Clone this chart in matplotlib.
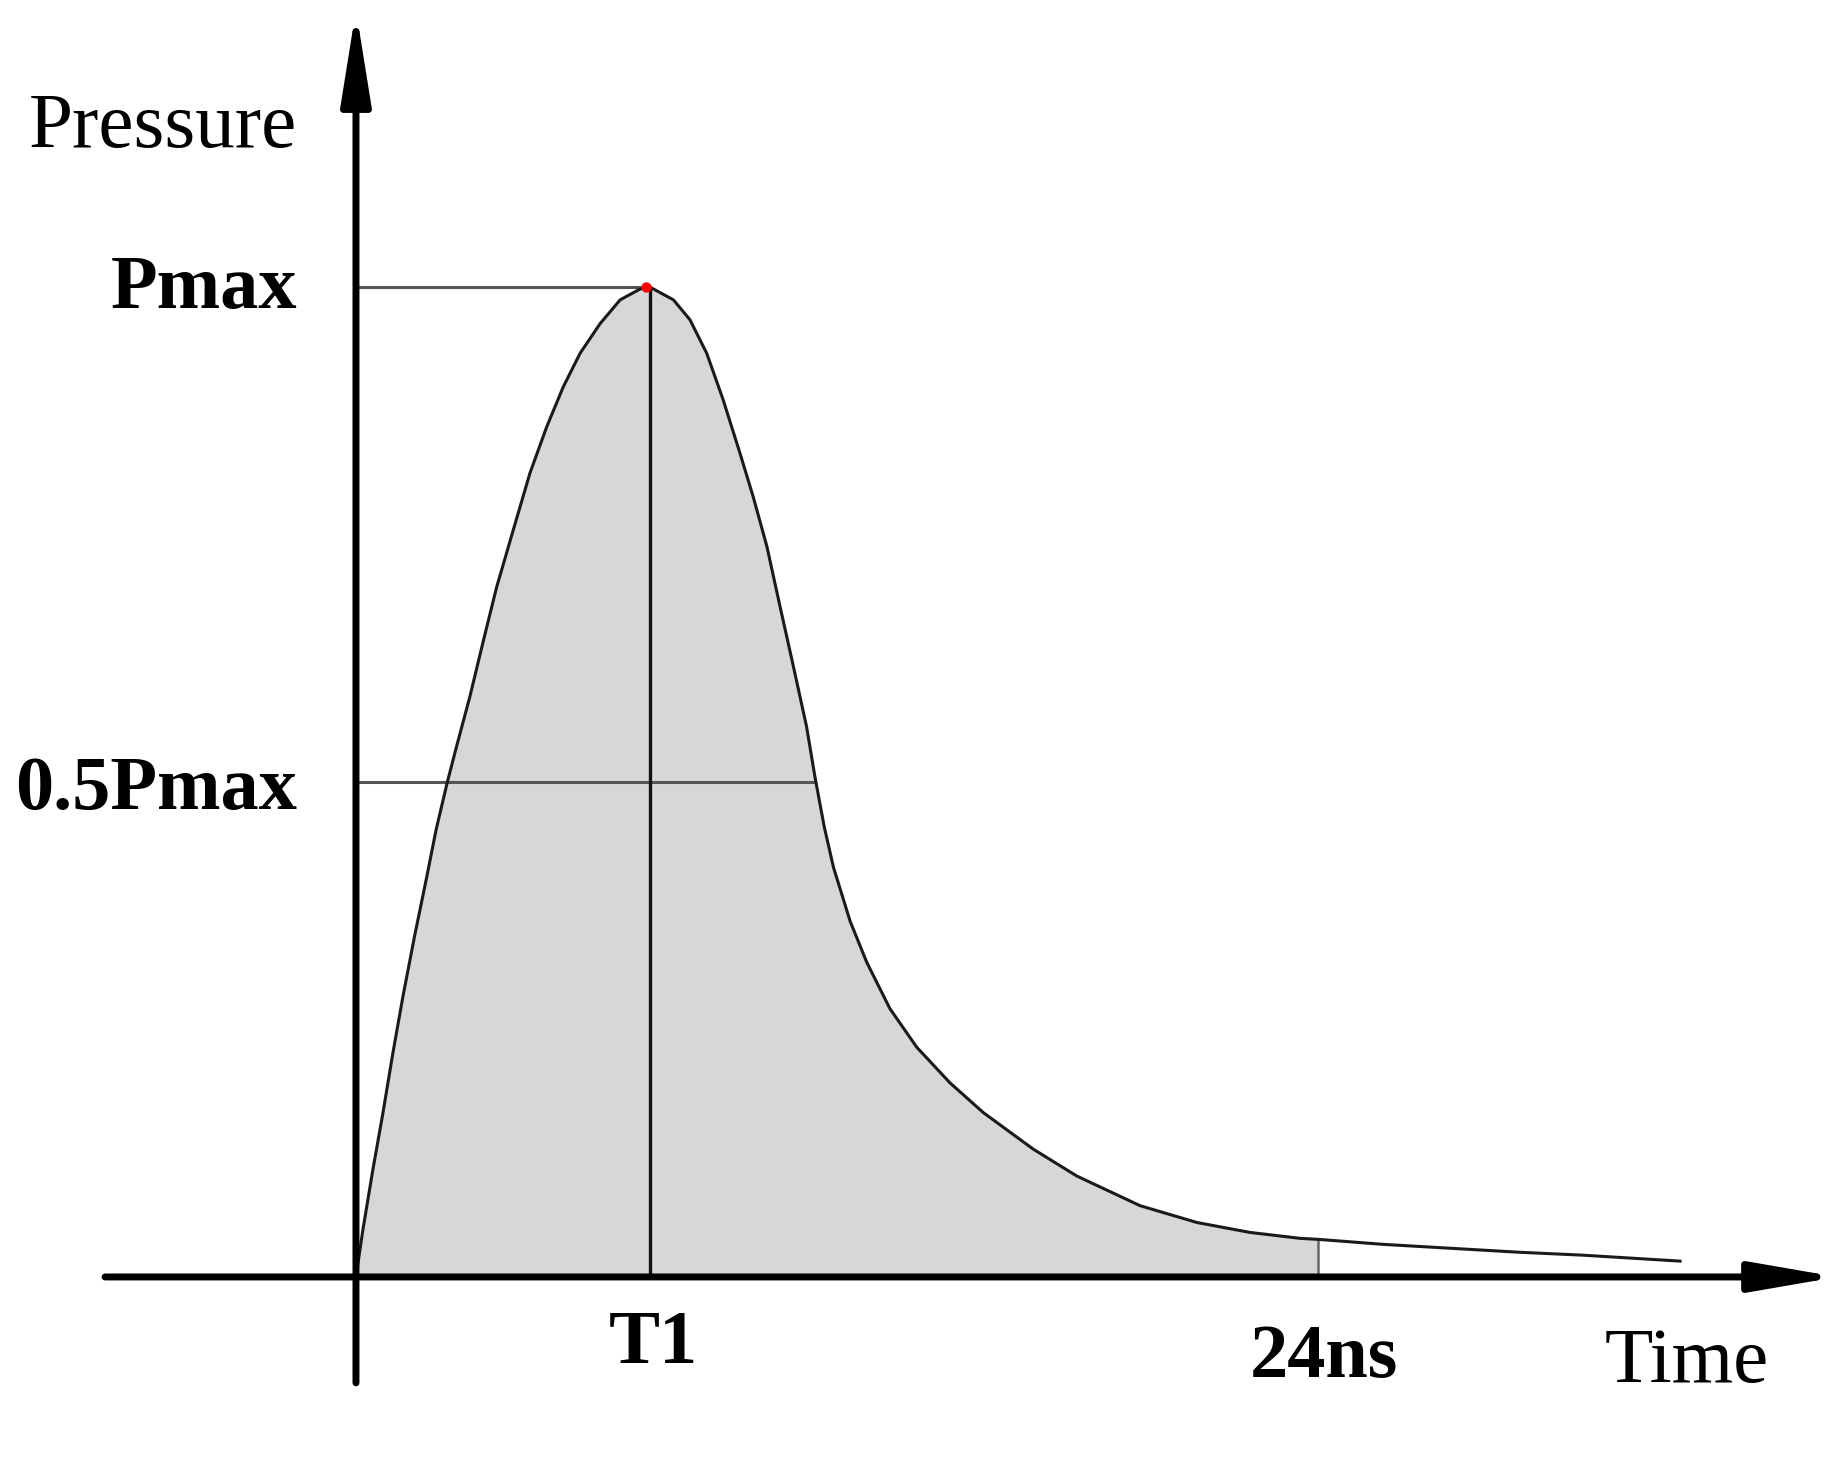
import matplotlib.pyplot as plt
from matplotlib.patches import FancyArrowPatch
import numpy as np

# pressure pulse (time in ns, pressure as fraction of Pmax)
time_ns = [0.0, 0.17, 0.42, 0.67, 0.92, 1.17, 1.46, 1.75, 2.00, 2.28,
           2.51, 2.84, 3.18, 3.51, 3.92, 4.34, 4.76, 5.17, 5.59, 6.09,
           6.59, 7.09, 7.28, 7.42, 7.92, 8.33, 8.75, 9.16, 9.58, 9.91,
           10.25, 10.58, 10.91, 11.24, 11.45, 11.68, 11.91, 12.33, 12.74, 13.32,
           13.99, 14.82, 15.65, 16.90, 17.98, 19.56, 20.98, 22.30, 23.55, 24.0,
           25.6, 27.3, 29.0, 30.61, 33.03]
pressure = [0.0, 0.047, 0.108, 0.165, 0.226, 0.283, 0.344, 0.401, 0.452, 0.500,
            0.536, 0.586, 0.643, 0.697, 0.754, 0.812, 0.859, 0.899, 0.933, 0.963,
            0.987, 0.998, 1.0, 0.998, 0.987, 0.967, 0.933, 0.886, 0.832, 0.788,
            0.738, 0.677, 0.617, 0.556, 0.505, 0.455, 0.414, 0.359, 0.318, 0.271,
            0.232, 0.196, 0.166, 0.129, 0.102, 0.072, 0.055, 0.045, 0.039, 0.038,
            0.033, 0.029, 0.025, 0.022, 0.016]

t1 = 7.28
t_end = 24.0
p_max = 1.0
p_half = 0.5
t_half_right = 11.45

y_labels = ['Pmax', '0.5Pmax']
x_labels = ['T1', '24ns']

plt.rcParams['font.family'] = ['Liberation Serif', 'DejaVu Serif']

fig = plt.figure(figsize=(18.4, 14.61), dpi=100)
ax = fig.add_axes([0, 0, 1, 1])
ax.set_xlim(-8.88, 37.02)
ax.set_ylim(-0.1859, 1.2899)
ax.axis('off')

t = np.array(time_ns)
p = np.array(pressure)

# shaded area up to 24 ns
mask = t <= t_end
ax.fill_between(t[mask], 0, p[mask], color='#d7d7d7', lw=0, zorder=1)

# guide lines
ax.plot([0, t1], [p_max, p_max], color='#555555', lw=2.2, zorder=2)
ax.plot([0, t_half_right], [p_half, p_half], color='#555555', lw=2.2, zorder=2)
ax.plot([t1 + 0.05, t1 + 0.05], [0, p_max], color='#111111', lw=2.4, zorder=2)
p24 = p[t == t_end][0]
ax.plot([t_end, t_end], [0, p24], color='#666666', lw=1.8, zorder=2)

# pulse curve
ax.plot(t, p, color='#1a1a1a', lw=2.2, zorder=3, solid_joinstyle='round')
ax.scatter([t1 - 0.05], [p_max], s=55, color='red', zorder=4, lw=0)

# axes with arrows
ax.add_patch(FancyArrowPatch((0, -0.107), (0, 1.28),
                             arrowstyle='-|>,head_length=56,head_width=9',
                             mutation_scale=1, lw=5, color='black',
                             shrinkA=0, shrinkB=0, zorder=5))
ax.add_patch(FancyArrowPatch((-6.26, 0), (36.95, 0),
                             arrowstyle='-|>,head_length=52,head_width=9',
                             mutation_scale=1, lw=5, color='black',
                             shrinkA=0, shrinkB=0, zorder=5))

# labels
ax.text(-1.47, 1.141, 'Pressure', fontsize=57, ha='right', va='baseline')
ax.text(31.14, -0.106, 'Time', fontsize=57, ha='left', va='baseline')
ax.text(-1.47, 0.979, y_labels[0], fontsize=55, fontweight='bold',
        ha='right', va='baseline')
ax.text(-1.47, 0.473, y_labels[1], fontsize=55, fontweight='bold',
        ha='right', va='baseline')
ax.text(7.41, -0.087, x_labels[0], fontsize=55, fontweight='bold',
        ha='center', va='baseline')
ax.text(24.15, -0.101, x_labels[1], fontsize=55, fontweight='bold',
        ha='center', va='baseline')

fig.savefig('out.png', dpi=100)
